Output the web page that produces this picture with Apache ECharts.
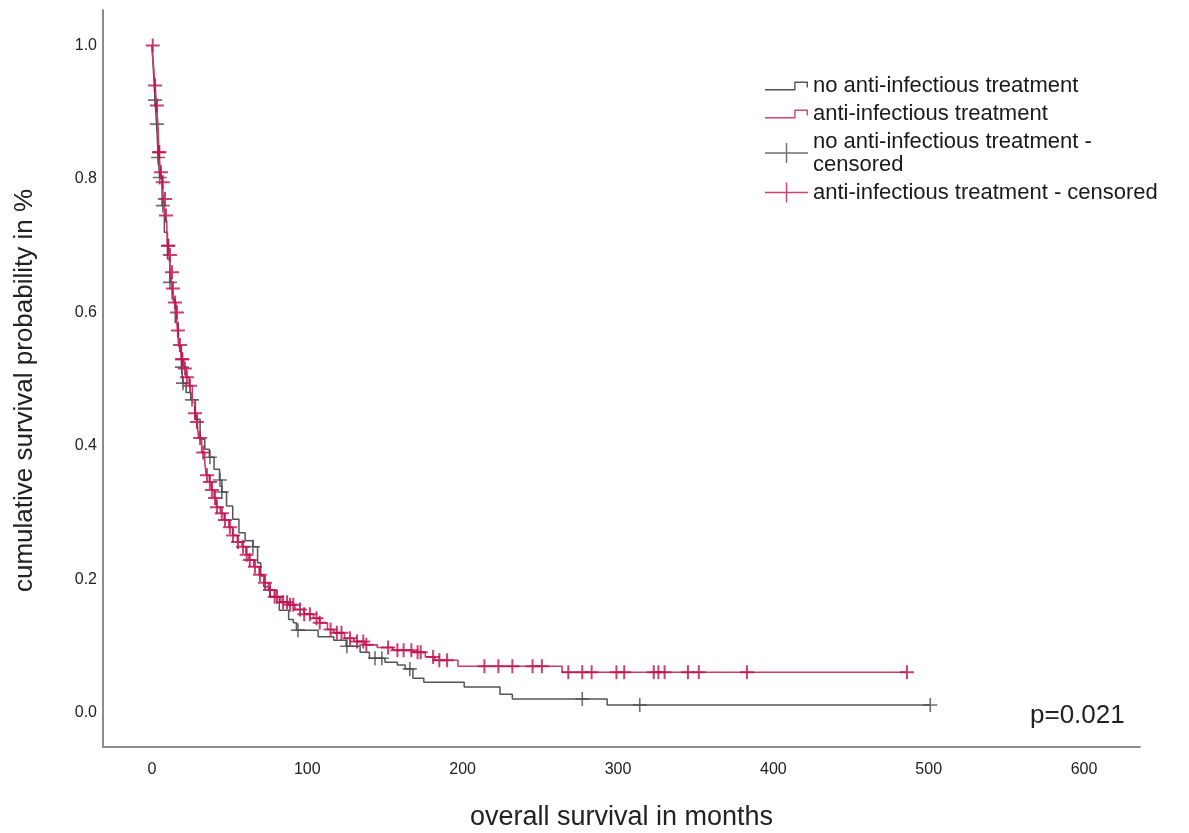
<!DOCTYPE html>
<html>
<head>
<meta charset="utf-8">
<script src="https://cdn.jsdelivr.net/npm/echarts@6/dist/echarts.min.js"></script>
<style>
  html, body { margin: 0; padding: 0; background: #fff; }
  #chart { width: 1189px; height: 833px; }
</style>
</head>
<body>
<div id="chart"></div>
<script>
// Kaplan-Meier steps: [months, survival after the step]
var noTreatCurve = [
  [0, 1.0], [1, 0.96], [2, 0.918], [3, 0.882], [4, 0.832], [5, 0.802], [6.5, 0.76],
  [8, 0.72], [10, 0.68], [11.5, 0.645], [13, 0.62], [15, 0.585], [17, 0.55],
  [19, 0.518], [20, 0.494], [22, 0.48], [25, 0.469], [28, 0.44], [31, 0.41],
  [34, 0.395], [37, 0.383], [40, 0.365], [43.5, 0.349], [45, 0.331], [48, 0.31],
  [52, 0.29], [56, 0.27], [60, 0.258], [65, 0.249], [68, 0.225], [70, 0.205],
  [72, 0.189], [76, 0.174], [82, 0.154], [88, 0.14], [91, 0.135], [93, 0.124],
  [107, 0.114], [117, 0.109], [125, 0.1], [134, 0.091], [140, 0.082], [150, 0.076],
  [158, 0.072], [163, 0.066], [168, 0.052], [175, 0.046], [201, 0.039], [224, 0.028],
  [232, 0.021], [293, 0.012], [501, 0.012]
];
var treatCurve = [
  [0, 1.0], [1, 0.97], [2, 0.94], [3, 0.91], [4, 0.875], [4.5, 0.84], [5.5, 0.81],
  [6.5, 0.795], [7.5, 0.77], [8.5, 0.745], [9.5, 0.735], [10, 0.70], [11, 0.686],
  [12, 0.66], [13, 0.636], [14, 0.615], [15.5, 0.60], [16.5, 0.573], [17.5, 0.551],
  [18.5, 0.54], [19, 0.53], [20.5, 0.516], [22, 0.503], [24, 0.49], [26, 0.465],
  [27.5, 0.449], [29, 0.436], [30, 0.412], [32, 0.39], [34, 0.375], [35, 0.356],
  [37, 0.346], [38.5, 0.334], [40, 0.322], [41.5, 0.308], [44, 0.299], [46.5, 0.289],
  [49.5, 0.278], [52, 0.266], [55, 0.256], [58, 0.249], [60.5, 0.237], [62.5, 0.229],
  [65.5, 0.219], [69, 0.207], [72, 0.195], [75, 0.184], [79, 0.174], [83, 0.166],
  [88, 0.162], [92, 0.155], [98, 0.148], [104, 0.142], [108, 0.135], [113, 0.125],
  [117, 0.12], [124, 0.112], [130, 0.107], [137, 0.102], [145, 0.098], [155, 0.094],
  [168, 0.091], [176, 0.084], [182, 0.079], [197, 0.070], [264, 0.061], [486, 0.061]
];

// censored observations (months)
var noTreatCensored = [2, 3.2, 4, 5, 7, 11.6, 19.3, 20, 25.8, 37.3, 43.8, 45, 65,
  94, 125.5, 143.6, 148, 166, 277, 314, 501];
var treatCensored = [0.5, 2, 3.2, 4.5, 4.8, 5.8, 7, 8.4, 9, 10.3, 10.6, 11.6, 12.9,
  13.5, 14.8, 16.1, 16.7, 18, 19.3, 19.6, 21.2, 22.5, 24.5, 27.7, 29, 31, 33, 35.4,
  37.3, 38.6, 40.6, 41.8, 45, 47, 50.2, 52.2, 55.4, 58.6, 61, 63, 66.3, 69.5, 72.8,
  76, 79, 80.5, 84.4, 87, 88.9, 91, 95.3, 98, 101.7, 106, 108, 115, 119, 122, 127.5,
  132, 136, 138, 152, 158, 162, 167, 171, 173, 181, 185, 190, 214, 223, 232, 245,
  251, 268, 277, 283, 299, 304, 323, 326, 330, 345, 352, 383, 486];

var xTicks = [0, 100, 200, 300, 400, 500, 600];
var yTicks = [0, 0.2, 0.4, 0.6, 0.8, 1.0];

var names = [
  'no anti-infectious treatment',
  'anti-infectious treatment',
  'no anti-infectious treatment -\ncensored',
  'anti-infectious treatment - censored'
];

var greyColor = '#555555';
var redColor = '#c0104f';
var fontFamily = 'Liberation Sans, Arial, sans-serif';

// survival value of a step curve at time t
function survAt(curve, t) {
  var s = curve[0][1];
  for (var i = 0; i < curve.length; i++) {
    if (curve[i][0] <= t) s = curve[i][1];
  }
  return s;
}

function censorPoints(curve, times) {
  return times.map(function (t) { return [t, survAt(curve, t)]; });
}

var greyPlus = 'path://M0,6.2h14v1.6h-14z M6.2,0h1.6v14h-1.6z';
var redPlus = 'path://M0,6h14v2h-14z M6,0h2v14h-2z';
var stepIcon = 'path://M0,0L0.01,0Z M43,20L42.99,20Z M0,13.5H29.2V6H43V12H41.6V7.4H30.6V14.9H0Z';
var plusIcon = 'path://M0,9.3H43V10.7H0Z M20.8,0H22.2V20H20.8Z';

var chart = echarts.init(document.getElementById('chart'));
chart.setOption({
  animation: false,
  textStyle: { fontFamily: fontFamily },
  grid: { left: 103, top: 10, right: 49, bottom: 86, outerBoundsMode: 'none', containLabel: false },
  legend: {
    orient: 'vertical',
    left: 765,
    top: 74,
    padding: 0,
    itemGap: 5,
    itemWidth: 43,
    itemHeight: 20,
    selectedMode: false,
    textStyle: { fontSize: 22, color: '#1a1a1a', lineHeight: 23 },
    data: [
      { name: names[0], icon: stepIcon },
      { name: names[1], icon: stepIcon },
      { name: names[2], icon: plusIcon },
      { name: names[3], icon: plusIcon }
    ]
  },
  xAxis: {
    type: 'value',
    min: -31.5,
    max: 636,
    name: 'overall survival in months',
    nameLocation: 'middle',
    nameGap: 57,
    nameTextStyle: { fontSize: 27, color: '#222' },
    axisLine: { onZero: false, lineStyle: { color: '#8c8c8c', width: 2 } },
    axisTick: { show: false },
    splitLine: { show: false },
    axisLabel: { customValues: xTicks, fontSize: 16, color: '#222', margin: 15 }
  },
  yAxis: {
    type: 'value',
    min: -0.051,
    max: 1.053,
    name: 'cumulative survival probability in %',
    nameLocation: 'middle',
    nameGap: 65,
    nameTextStyle: { fontSize: 26, color: '#222', padding: [0, 24, 0, 0] },
    axisLine: { onZero: false, lineStyle: { color: '#8c8c8c', width: 2 } },
    axisTick: { show: false },
    splitLine: { show: false },
    axisLabel: {
      customValues: yTicks, fontSize: 16, color: '#222', margin: 6,
      formatter: function (v) { return v.toFixed(1); }
    }
  },
  series: [
    {
      name: names[0], type: 'line', step: 'end', showSymbol: false, symbol: 'none',
      data: noTreatCurve, color: greyColor,
      lineStyle: { color: greyColor, width: 1.5 }, z: 2
    },
    {
      name: names[2], type: 'scatter', data: censorPoints(noTreatCurve, noTreatCensored),
      symbol: greyPlus, symbolSize: 14, color: greyColor,
      itemStyle: { color: '#4a4a4a' }, z: 3
    },
    {
      name: names[1], type: 'line', step: 'end', showSymbol: false, symbol: 'none',
      data: treatCurve, color: '#d0457a',
      lineStyle: { color: '#cc3a70', width: 1.6 }, z: 4
    },
    {
      name: names[3], type: 'scatter', data: censorPoints(treatCurve, treatCensored),
      symbol: redPlus, symbolSize: 14, color: '#d0457a',
      itemStyle: { color: redColor }, z: 5
    }
  ],
  graphic: [
    {
      type: 'text', left: 1030, top: 703,
      style: { text: 'p=0.021', fontSize: 26, fill: '#222', fontFamily: fontFamily }
    }
  ]
});
</script>
</body>
</html>
